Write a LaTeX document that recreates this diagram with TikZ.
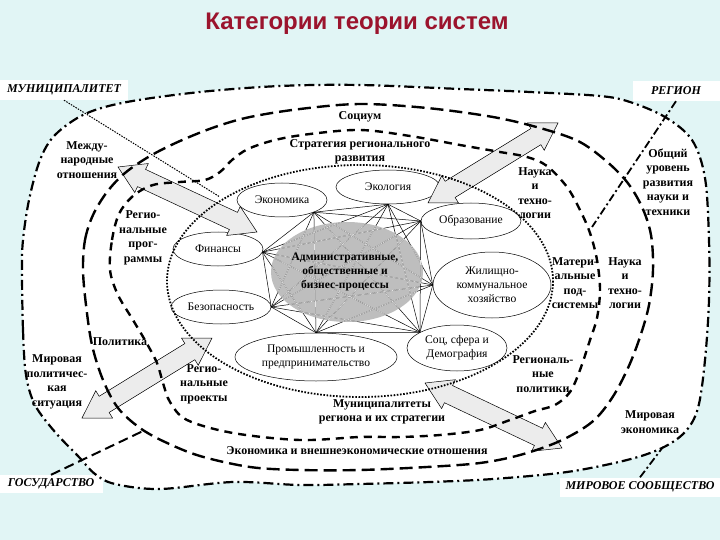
\documentclass[tikz,border=0pt]{standalone}
\usepackage{fontspec}
\setmainfont{Liberation Serif}
\newfontfamily\titlefont{Liberation Sans}
\usetikzlibrary{shapes.geometric,calc}
\definecolor{bgc}{RGB}{225,245,245}
\definecolor{titlec}{RGB}{155,20,45}
\definecolor{arrfill}{RGB}{236,236,236}
\definecolor{coregray}{RGB}{190,190,190}
\newcommand\blockarrow[2]{%
 \draw[barrow] (#1) -- ($(#1)!26pt!(#2)!16pt!90:(#2)$) -- ($(#1)!26pt!(#2)!9.5pt!90:(#2)$)
 -- ($(#2)!26pt!(#1)!9.5pt!-90:(#1)$) -- ($(#2)!26pt!(#1)!16pt!-90:(#1)$) -- (#2)
 -- ($(#2)!26pt!(#1)!16pt!90:(#1)$) -- ($(#2)!26pt!(#1)!9.5pt!90:(#1)$)
 -- ($(#1)!26pt!(#2)!9.5pt!-90:(#2)$) -- ($(#1)!26pt!(#2)!16pt!-90:(#2)$) -- cycle;}
\begin{document}
\begin{tikzpicture}[x=1pt,y=-1pt,
 outerb/.style={line width=2.2pt, dash pattern=on 10pt off 4pt on 2pt off 4pt},
 gosb/.style={line width=2.4pt, dash pattern=on 13pt off 6pt},
 regb/.style={line width=2.4pt, dash pattern=on 8pt off 6pt},
 munb/.style={line width=1.8pt, dash pattern=on 1.6pt off 1.6pt},
 lbl/.style={font=\bfseries\fontsize{12}{14.5}\selectfont, align=center, inner sep=0pt},
 elltext/.style={ellipse, draw, fill=white, line width=0.5pt, inner sep=0pt, align=center, font=\fontsize{11.6}{14}\selectfont},
 corner/.style={fill=white, inner sep=0pt, font=\bfseries\itshape\fontsize{12}{14}\selectfont},
 barrow/.style={draw=black, fill=arrfill, line width=0.5pt, line join=miter},
 meshline/.style={line width=0.5pt, black},
]
\useasboundingbox (0,0) rectangle (720,540);
\fill[bgc] (0,0) rectangle (720,540);
% outer white region
\fill[white] plot[smooth cycle, tension=0.55] coordinates {(22,270) (23,330) (26,375) (35,405) (55,432) (78,456) (95,474) (115,484) (160,489) (233,482) (300,485) (360,484) (430,482) (493,479) (567,472) (627,460) (662,448) (685,432) (698,408) (705,360) (709,300) (709,240) (705,178) (692,140) (665,117) (630,102) (600,96) (530,92) (460,89) (360,85) (280,86) (200,92) (127,102) (85,114) (55,135) (40,160) (29,200) (23,240)};
% corner labels
\node[corner, minimum width=128pt, minimum height=20pt] (mun) at (64,90) {МУНИЦИПАЛИТЕТ};
\node[corner, minimum width=87pt, minimum height=20pt] (reg) at (676,91) {РЕГИОН};
\node[corner, minimum width=103pt, minimum height=18pt] (gos) at (51,484) {ГОСУДАРСТВО};
\node[corner, minimum width=160pt, minimum height=19pt] (mir) at (640,487) {МИРОВОЕ СООБЩЕСТВО};
% title
\node[font=\titlefont\bfseries\fontsize{24}{28}\selectfont, text=titlec] (title) at (357,24) {Категории теории систем};
% ellipses
\node[elltext, minimum width=90pt, minimum height=34pt] (econ) at (282,200) {Экономика};
\node[elltext, minimum width=104pt, minimum height=34pt] (ecol) at (388,187) {Экология};
\node[elltext, minimum width=100pt, minimum height=36pt] (obr) at (471,221) {Образование};
\node[elltext, minimum width=90pt, minimum height=34pt] (fin) at (218,249) {Финансы};
\node[elltext, minimum width=100pt, minimum height=34pt] (bez) at (221,307) {Безопасность};
\node[elltext, minimum width=162pt, minimum height=48pt] (prom) at (316,357) {Промышленность и\\предпринимательство};
\node[elltext, minimum width=100pt, minimum height=46pt] (soc) at (457,348) {Соц, сфера и\\Демография};
\node[elltext, minimum width=118pt, minimum height=66pt] (zhkh) at (492,285) {Жилищно-\\коммунальное\\хозяйство};
% mesh points
\coordinate (p1) at (econ.-21);
\coordinate (p2) at (ecol.south);
\coordinate (p3) at (obr.west);
\coordinate (p4) at (fin.-4);
\coordinate (p5) at (zhkh.west);
\coordinate (p6) at (bez.east);
\coordinate (p7) at (prom.north);
\coordinate (p8) at (soc.157);
% gray core
\fill[coregray] (347,272) ellipse [x radius=76, y radius=50];
\foreach \i in {1,...,7}{
  \pgfmathtruncatemacro\k{\i+1}
  \foreach \j in {\k,...,8}{ \draw[meshline] (p\i) -- (p\j); }
}
\begin{scope}
 \clip (347,272) ellipse [x radius=76, y radius=50];
 \foreach \i in {1,...,7}{
  \pgfmathtruncatemacro\k{\i+1}
  \foreach \j in {\k,...,8}{ \draw[line width=0.6pt, gray!20] (p\i) -- (p\j); }
 }
\end{scope}
\node[lbl, font=\bfseries\fontsize{11.5}{14}\selectfont] (core) at (345,272) {Административные,\\общественные и\\бизнес-процессы};
% block arrows
\coordinate (a1s) at (118,167); \coordinate (a1e) at (257,232);
\coordinate (a2s) at (428,203); \coordinate (a2e) at (558,123);
\coordinate (a3s) at (82,418);  \coordinate (a3e) at (212,338);
\coordinate (a4s) at (425,383); \coordinate (a4e) at (562,448);
\blockarrow{a1s}{a1e}
\blockarrow{a2s}{a2e}
\blockarrow{a3s}{a3e}
\blockarrow{a4s}{a4e}
% boundaries
\draw[munb] (360,281) ellipse [x radius=193, y radius=116];
\draw[regb] plot[smooth cycle, tension=0.55] coordinates {(110,270) (112,240) (119,214) (133,196) (153,185) (180,182) (205,180) (220,172) (232,160) (248,149) (275,140) (310,134) (360,130) (410,136) (460,145) (500,152) (527,157) (547,166) (567,187) (580,210) (590,233) (597,260) (600,290) (597,318) (590,340) (580,370) (570,392) (555,405) (535,411) (510,420) (480,430) (440,435) (400,437) (360,437) (300,440) (233,433) (187,420) (170,402) (163,383) (157,363) (146,342) (133,320) (118,295)};
\draw[gosb] plot[smooth cycle, tension=0.55] coordinates {(83,270) (85,240) (93,215) (107,192) (125,173) (150,156) (180,141) (215,127) (250,117) (300,109) (360,104) (427,108) (493,117) (540,128) (578,141) (605,160) (627,182) (642,207) (651,235) (653,270) (649,305) (640,337) (628,368) (612,398) (592,422) (560,441) (520,455) (480,463) (427,467) (360,470) (300,470) (250,467) (200,456) (165,442) (140,428) (118,408) (103,380) (92,345) (86,305)};
\draw[outerb] plot[smooth cycle, tension=0.55] coordinates {(22,270) (23,330) (26,375) (35,405) (55,432) (78,456) (95,474) (115,484) (160,489) (233,482) (300,485) (360,484) (430,482) (493,479) (567,472) (627,460) (662,448) (685,432) (698,408) (705,360) (709,300) (709,240) (705,178) (692,140) (665,117) (630,102) (600,96) (530,92) (460,89) (360,85) (280,86) (200,92) (127,102) (85,114) (55,135) (40,160) (29,200) (23,240)};
% connectors from corner labels
\coordinate (m1) at (220,197);
\coordinate (r1) at (592,227);
\coordinate (g1) at (143,431);
\coordinate (w1) at (663,447);
\draw[line width=1pt, dash pattern=on 1.5pt off 1.2pt] (mun.south) -- (m1);
\draw[line width=1.8pt, dash pattern=on 8pt off 3pt on 2pt off 3pt] (reg.south) -- (r1);
\draw[line width=2pt, dash pattern=on 10pt off 5pt] (gos.north) -- (g1);
\draw[line width=1.8pt, dash pattern=on 8pt off 3pt on 2pt off 3pt] (mir.north) -- (w1);
% labels
\node[lbl] (socium) at (360,117) {Социум};
\node[lbl] (strat) at (360,152) {Стратегия регионального\\развития};
\node[lbl] (mezhd) at (87,160) {Между-\\народные\\отношения};
\node[lbl] (rprog) at (143,238) {Регио-\\нальные\\прог-\\раммы};
\node[lbl] (polit) at (120,342) {Политика};
\node[lbl] (mpol) at (57,382) {Мировая\\политичес-\\кая\\ситуация};
\node[lbl] (rproj) at (204,384) {Регио-\\нальные\\проекты};
\node[lbl] (nauka1) at (535,193) {Наука\\и\\техно-\\логии};
\node[lbl] (obsh) at (668,182) {Общий\\уровень\\развития\\науки и\\техники};
\node[lbl] (mater) at (575,283) {Матери-\\альные\\под-\\системы};
\node[lbl] (nauka2) at (625,283) {Наука\\и\\техно-\\логии};
\node[lbl] (rpolit) at (543,374) {Региональ-\\ные\\политики};
\node[lbl] (mecon) at (650,422) {Мировая\\экономика};
\node[lbl] (munreg) at (382,412) {Муниципалитеты\\региона и их стратегии};
\node[lbl] (vnesh) at (357,451) {Экономика и внешнеэкономические отношения};
\end{tikzpicture}
\end{document}
